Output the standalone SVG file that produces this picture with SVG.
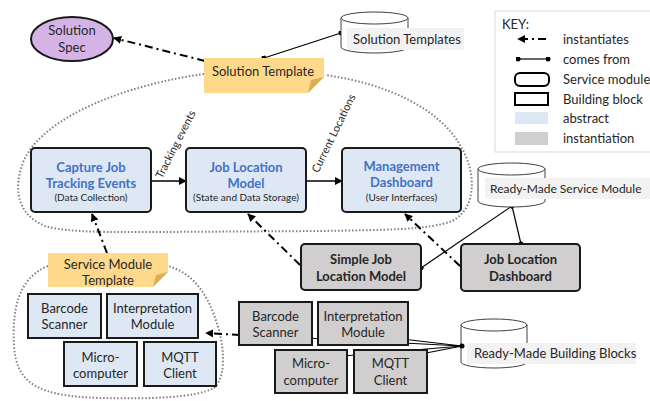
<svg xmlns="http://www.w3.org/2000/svg" width="650" height="401" viewBox="0 0 650 401">
<style>
text{font-family:Lato,"Open Sans","Liberation Sans",sans-serif;fill:#262626}
.t13{font-size:13px}
.sm{font-size:10px}
.b{font-weight:bold}
.blue{fill:#4472c4}
.mid{text-anchor:middle}
.svc{stroke:#1a1a1a;stroke-width:2}
.abs{fill:#dde8f4}
.inst{fill:#d0cece}
.blk{stroke:#1a1a1a;stroke-width:2}
.note{fill:#fed98b}
.fold{fill:#d9ae55}
.inst-line{fill:none;stroke:#000;stroke-width:2;stroke-dasharray:8,4,2,4}
.from{fill:none;stroke:#000;stroke-width:1.2}
.flow{fill:none;stroke:#000;stroke-width:1.5}
.dotbd{fill:none;stroke:#7f7f7f;stroke-width:2;stroke-dasharray:1.5,2}
.cyl{fill:#fff;stroke:#404040;stroke-width:1}
.lbl{fill:#f2f2f2}
</style>
<defs>
<marker id="ah" viewBox="0 0 10 10" refX="9" refY="5" markerWidth="8" markerHeight="8" markerUnits="userSpaceOnUse" orient="auto">
<path d="M0,0 L10,5 L0,10 Z" fill="#000"/>
</marker>
<marker id="dot" viewBox="0 0 10 10" refX="5" refY="5" markerWidth="5" markerHeight="5" markerUnits="userSpaceOnUse" orient="auto">
<circle cx="5" cy="5" r="5" fill="#000"/>
</marker>
</defs>

<g id="boundaries">
<path class="dotbd" d="M204,74 C130,84 45,115 24,160 C12,190 18,215 45,226 C70,233 110,232 160,232 L320,231 C380,230 430,230 452,221 C478,208 476,170 460,145 C440,110 390,84 325,75"/>
<path class="dotbd" d="M48,266 C18,278 12,310 14,345 C16,385 40,396 100,398 C150,399 195,398 214,388 C228,375 224,340 214,315 C205,290 190,272 168,266"/>
</g>

<g id="connectors">
<path class="inst-line" d="M205,61 L114,38" marker-end="url(#ah)"/>
<path class="from" d="M264,58 L341,33" marker-start="url(#dot)" marker-end="url(#dot)"/>
<path class="flow" d="M151,181 L186,181" marker-end="url(#ah)"/>
<path class="flow" d="M306,181 L342,181" marker-end="url(#ah)"/>
<path class="inst-line" d="M107,253 L92,214" marker-end="url(#ah)"/>
<path class="inst-line" d="M300,265 L248,214" marker-end="url(#ah)"/>
<path class="inst-line" d="M460,266 L405,214" marker-end="url(#ah)"/>
<path class="inst-line" d="M240,335 L206,333" marker-end="url(#ah)"/>
<path class="from" d="M512,206 L421,268" marker-start="url(#dot)" marker-end="url(#dot)"/>
<path class="from" d="M512,206 L521,244" marker-end="url(#dot)"/>
<path class="from" d="M462,346 L306,338" marker-start="url(#dot)" marker-end="url(#dot)"/>
<path class="from" d="M462,346 L402,339" marker-end="url(#dot)"/>
<path class="from" d="M462,346 L343,356" marker-end="url(#dot)"/>
<path class="from" d="M462,346 L421,354" marker-end="url(#dot)"/>
<text class="mid" font-size="11" transform="translate(179,146) rotate(-63)">Tracking events</text>
<text class="mid" font-size="11" transform="translate(337,135) rotate(-64)">Current Locations</text>
</g>

<g id="solution-spec">
<ellipse cx="72" cy="39" rx="41" ry="22" fill="#d5b3e7" stroke="#1a1a1a" stroke-width="2"/>
<text class="t13 mid" x="72" y="35">Solution</text>
<text class="t13 mid" x="72" y="52">Spec</text>
</g>

<g id="solution-template">
<path class="note" d="M204,58 H324 V77 L308,93 H204 Z"/>
<path class="fold" d="M324,77 L308,93 L311,80 Z"/>
<text class="t13 mid" x="263" y="75.5">Solution Template</text>
</g>

<g id="solution-templates">
<path class="cyl" d="M341,18 A33.5,6 0 0,1 408,18 L408,47 A33.5,6 0 0,1 341,47 Z"/>
<path class="cyl" fill="none" d="M341,18 A33.5,6 0 0,0 408,18"/>
<rect class="lbl" x="347" y="28" width="117" height="22"/>
<text class="t13" x="353" y="43.5">Solution Templates</text>
</g>

<g id="key">
<rect x="495" y="11" width="160" height="141" fill="#fff" stroke="#d9d9d9" stroke-width="1"/>
<text class="t13" x="502" y="29">KEY:</text>
<path class="inst-line" d="M546,39 L518,39" marker-end="url(#ah)"/>
<path class="from" d="M518,59 L548,59" marker-start="url(#dot)" marker-end="url(#dot)"/>
<rect x="515" y="73" width="34" height="13" rx="5" fill="#fff" stroke="#000" stroke-width="2"/>
<rect x="515" y="93" width="33" height="12" fill="#fff" stroke="#000" stroke-width="2"/>
<rect class="abs" x="515" y="112" width="33" height="12"/>
<rect class="inst" x="515" y="132" width="33" height="13"/>
<text class="t13" x="563" y="43.5">instantiates</text>
<text class="t13" x="563" y="63.5">comes from</text>
<text class="t13" x="563" y="83.5">Service module</text>
<text class="t13" x="563" y="103.5">Building block</text>
<text class="t13" x="563" y="122.5">abstract</text>
<text class="t13" x="563" y="142.5">instantiation</text>
</g>

<g id="capture-job">
<rect class="abs svc" x="31" y="148" width="120" height="64" rx="4"/>
<text class="t13 b blue mid" x="91" y="171.5">Capture Job</text>
<text class="t13 b blue mid" x="91" y="187.5">Tracking Events</text>
<text class="sm mid" x="91" y="200.5">(Data Collection)</text>
</g>
<g id="job-location-model">
<rect class="abs svc" x="186" y="148" width="120" height="64" rx="4"/>
<text class="t13 b blue mid" x="246" y="171.5">Job Location</text>
<text class="t13 b blue mid" x="246" y="187.5">Model</text>
<text class="sm mid" x="246" y="200.5">(State and Data Storage)</text>
</g>
<g id="management-dashboard">
<rect class="abs svc" x="342" y="148" width="119" height="64" rx="4"/>
<text class="t13 b blue mid" x="401.5" y="170.5">Management</text>
<text class="t13 b blue mid" x="401.5" y="186.5">Dashboard</text>
<text class="sm mid" x="401.5" y="200.5">(User Interfaces)</text>
</g>

<g id="simple-job-location-model">
<rect class="inst svc" x="301" y="244" width="120" height="46" rx="4"/>
<text class="t13 b mid" x="361" y="263.5">Simple Job</text>
<text class="t13 b mid" x="361" y="280.5">Location Model</text>
</g>
<g id="job-location-dashboard">
<rect class="inst svc" x="461" y="244" width="119" height="47" rx="4"/>
<text class="t13 b mid" x="520.5" y="263.5">Job Location</text>
<text class="t13 b mid" x="520.5" y="280.5">Dashboard</text>
</g>

<g id="ready-made-service-module">
<path class="cyl" d="M478,169 A33.5,6 0 0,1 545,169 L545,201 A33.5,6 0 0,1 478,201 Z"/>
<path class="cyl" fill="none" d="M478,169 A33.5,6 0 0,0 545,169"/>
<rect class="lbl" x="485" y="178" width="165" height="21"/>
<text x="490" y="193" font-size="12">Ready-Made Service Module</text>
</g>

<g id="service-module-template">
<path class="note" d="M48,253 H168 V272 L153,287 H48 Z"/>
<path class="fold" d="M168,272 L153,287 L156,275 Z"/>
<text class="t13 mid" x="108" y="268.5">Service Module</text>
<text class="t13 mid" x="108" y="284.5">Template</text>
</g>

<g id="abs-barcode">
<rect class="abs blk" x="28" y="294" width="73" height="44"/>
<text class="t13 mid" x="64.5" y="312.5">Barcode</text>
<text class="t13 mid" x="64.5" y="328.5">Scanner</text>
</g>
<g id="abs-interpretation">
<rect class="abs blk" x="107" y="294" width="91" height="44"/>
<text class="t13 mid" x="152.5" y="312.5">Interpretation</text>
<text class="t13 mid" x="152.5" y="328.5">Module</text>
</g>
<g id="abs-microcomputer">
<rect class="abs blk" x="64" y="342" width="73" height="44"/>
<text class="t13 mid" x="100.5" y="361.5">Micro-</text>
<text class="t13 mid" x="100.5" y="377.5">computer</text>
</g>
<g id="abs-mqtt">
<rect class="abs blk" x="144" y="342" width="72" height="44"/>
<text class="t13 mid" x="180" y="361.5">MQTT</text>
<text class="t13 mid" x="180" y="377.5">Client</text>
</g>

<g id="inst-barcode">
<rect class="inst blk" x="239" y="302" width="73" height="43"/>
<text class="t13 mid" x="275.5" y="320.5">Barcode</text>
<text class="t13 mid" x="275.5" y="337">Scanner</text>
</g>
<g id="inst-interpretation">
<rect class="inst blk" x="318" y="302" width="90" height="43"/>
<text class="t13 mid" x="363" y="320.5">Interpretation</text>
<text class="t13 mid" x="363" y="337">Module</text>
</g>
<g id="inst-microcomputer">
<rect class="inst blk" x="275" y="350" width="72" height="43"/>
<text class="t13 mid" x="311" y="367.5">Micro-</text>
<text class="t13 mid" x="311" y="384.5">computer</text>
</g>
<g id="inst-mqtt">
<rect class="inst blk" x="354" y="350" width="73" height="43"/>
<text class="t13 mid" x="390.5" y="367.5">MQTT</text>
<text class="t13 mid" x="390.5" y="384.5">Client</text>
</g>

<g id="ready-made-building-blocks">
<path class="cyl" d="M461,325 A33,6 0 0,1 527,325 L527,362 A33,6 0 0,1 461,362 Z"/>
<path class="cyl" fill="none" d="M461,325 A33,6 0 0,0 527,325"/>
<rect class="lbl" x="467" y="343" width="169" height="21"/>
<text class="t13" x="474" y="358">Ready-Made Building Blocks</text>
<circle cx="462" cy="346" r="2.5" fill="#000"/>
</g>
</svg>
